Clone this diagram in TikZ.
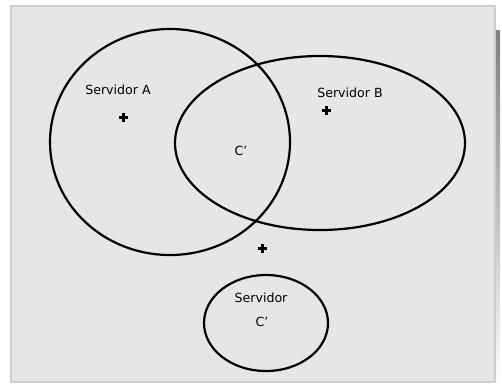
\documentclass[tikz,border=0pt]{standalone}
\usepackage{fontspec}
\setmainfont{DejaVu Sans}
\definecolor{panel}{HTML}{E6E6E6}
\definecolor{panelrim}{HTML}{CFCFCF}
\definecolor{shade}{HTML}{808080}
\tikzset{
  zone/.style={line width=1.1pt,black},
  lbl/.style={inner sep=1pt,font=\fontsize{6.3}{7}\selectfont},
  cross/.style={line width=1.5pt,line cap=butt}
}
\begin{document}
\begin{tikzpicture}[x=0.5pt,y=-0.5pt,line cap=round,line join=round]
  \useasboundingbox (0,0) rectangle (502,387);
  \fill[white] (0,0) rectangle (502,387);
  \fill[shade] (16,30) rectangle (500,387);
  \draw[panelrim,fill=panel,line width=0.6pt] (11,6) rectangle (495,382);
  % service areas
  \draw[zone] (170,142) ellipse[x radius=120,y radius=113];
  \draw[zone] (320,143) ellipse[x radius=145,y radius=87];
  \draw[zone] (266,323) ellipse[x radius=62,y radius=48];
  % server positions
  \foreach \px/\py in {123/117,326/110,262/248}
    \draw[cross] (\px-4.5,\py) -- (\px+4.5,\py) (\px,\py-4.5) -- (\px,\py+4.5);
  \node[lbl] (srva) at (118,90) {Servidor A};
  \node[lbl] (srvb) at (350,93) {Servidor B};
  \node[lbl] (shared) at (241,151) {C'};
  \node[lbl] (srvc) at (261,298) {Servidor};
  \node[lbl] (srvcc) at (262,322) {C'};
\end{tikzpicture}
\end{document}
